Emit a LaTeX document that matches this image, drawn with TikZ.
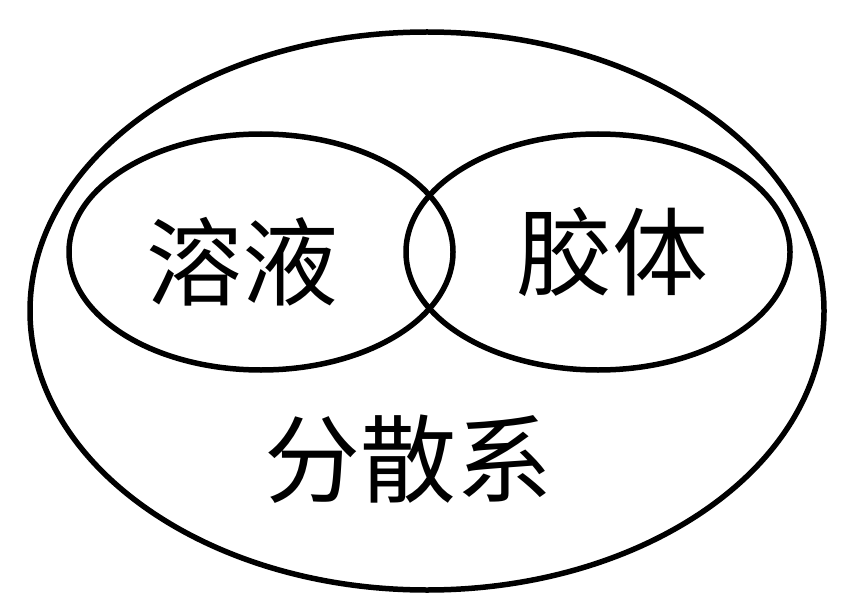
\documentclass[tikz,border=0pt]{standalone}
\usepackage{fontspec}
\newfontfamily\cjk{Noto Sans CJK SC}
\begin{document}
\begin{tikzpicture}[x=1pt,y=-1pt,
  ring/.style={draw=black,line width=5.5pt},
  lbl/.style={font=\cjk\fontsize{96}{100}\selectfont,inner sep=0pt}]
\useasboundingbox (0,0) rectangle (842,612);
\draw[ring] (427,311) ellipse [x radius=397, y radius=279];
\draw[ring] (261,252) ellipse [x radius=192, y radius=118];
\draw[ring] (598,252) ellipse [x radius=192, y radius=118];
\node[lbl] (sol) at (242,262) {溶液};
\node[lbl] (col) at (612,252) {胶体};
\node[lbl] (dis) at (408,459) {分散系};
\end{tikzpicture}
\end{document}
